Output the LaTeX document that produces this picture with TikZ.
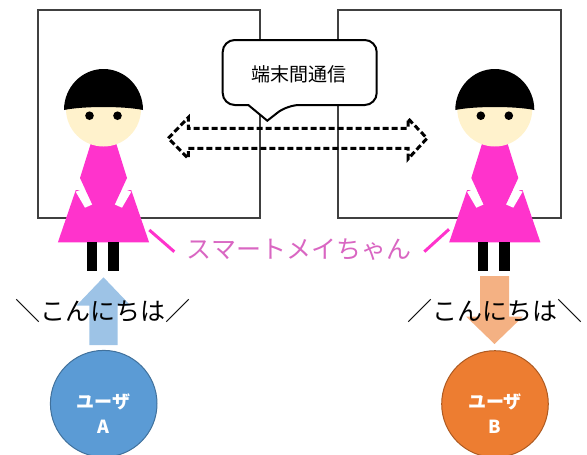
\documentclass[tikz,border=0pt]{standalone}
\usepackage{fontspec}
\newfontfamily\jp{Noto Sans CJK JP}
\definecolor{dress}{HTML}{FF33CC}
\definecolor{skin}{HTML}{FFF2CC}
\definecolor{namepink}{HTML}{D966C2}
\definecolor{upblue}{HTML}{9DC3E6}
\definecolor{downorange}{HTML}{F4B183}
\definecolor{userAfill}{HTML}{5B9BD5}
\definecolor{userAline}{HTML}{41719C}
\definecolor{userBfill}{HTML}{ED7D31}
\definecolor{userBline}{HTML}{AE5A21}
\definecolor{framegray}{HTML}{404040}
\tikzset{
  frame/.style={draw=framegray, line width=1.3},
  bubble/.style={draw=black, line width=2, fill=white},
  linkarrow/.style={draw=black, line width=3, dash pattern=on 6 off 3},
  pointer/.style={draw=dress, line width=3},
  greet/.style={font=\jp\fontsize{25}{30}\selectfont, text=black, inner sep=0},
  user/.style={circle, minimum size=106.6, inner sep=0, line width=1},
  usertext/.style={font=\jp\bfseries\fontsize{18}{25}\selectfont, text=white, align=center, inner sep=0},
  girl/.pic={
    % skirt
    \fill[dress] (-45.6,242.3) -- (45.6,242.3) -- (27.7,190) -- (-27.7,190) -- cycle;
    % white gaps beside the waist
    \fill[white] (-27.8,191.7) -- (-18.5,207.7) -- (-10.8,204.3) -- (-18.8,188.3) -- cycle;
    \fill[white] (27.8,191.7) -- (18.5,207.7) -- (10.8,204.3) -- (18.8,188.3) -- cycle;
    % torso
    \fill[dress] (-11.6,140) -- (11.6,140) -- (23.5,178) -- (11,205) -- (-11,205) -- (-23.5,178) -- cycle;
    % legs
    \fill[black] (-17,242) rectangle (-6.5,270.7);
    \fill[black] (4.5,242) rectangle (15.2,270.7);
    % face, hair, eyes
    \fill[skin] (0,109) circle[radius=37.5];
    \fill[black] (-39.5,110) arc[start angle=180, end angle=360, x radius=39.5, y radius=41]
      .. controls (20,106) and (-20,106) .. cycle;
    \fill[black] (-14,115.7) circle[radius=4.3];
    \fill[black] (14,115.7) circle[radius=4.3];
  }
}
\begin{document}
\begin{tikzpicture}[x=1pt, y=-1pt]
\useasboundingbox (0,0) rectangle (587,455);

% the two terminals
\draw[frame] (38,10) rectangle (260,218);
\draw[frame] (338,10) rectangle (561,218);

% speech bubble
\draw[bubble] (267.3,120.7) -- (248.3,105) [rounded corners=12] -- (222.7,105) -- (222.7,40)
  -- (376.7,40) -- (376.7,105) -- (287.3,105) [sharp corners] -- cycle;
\node[font=\jp\fontsize{19}{23}\selectfont, inner sep=0] (talk) at (299,74) {端末間通信};

% two-way link between the terminals
\draw[linkarrow] (168.3,138.3) -- (188.3,117.5) -- (188.3,128.3) -- (408,128.3) -- (408,118.5)
  -- (427,138.3) -- (408,159) -- (408,148.3) -- (188.3,148.3) -- (188.3,158.5) -- cycle;

% the two robots
\pic at (103.5,0) {girl};
\pic at (494.8,0) {girl};

% name label with its pointers
\node[font=\jp\fontsize{25}{30}\selectfont, text=namepink, inner sep=0] (name) at (299,249.5) {スマートメイちゃん};
\coordinate (robotA) at (149.3,230);
\coordinate (robotB) at (449,229.3);
\coordinate (nameL) at (174.3,251.7);
\coordinate (nameR) at (424.3,251.7);
\draw[pointer] (robotA) -- (nameL);
\draw[pointer] (robotB) -- (nameR);

% voice input and output arrows
\fill[upblue] (103.5,277.3) -- (130.5,305.5) -- (117.7,305.5) -- (117.7,345) -- (89.3,345)
  -- (89.3,305.5) -- (76.5,305.5) -- cycle;
\fill[downorange] (494.5,344) -- (523,316.5) -- (509,316.5) -- (509,276) -- (480,276)
  -- (480,316.5) -- (466,316.5) -- cycle;

% greetings
\node[greet] (helloA) at (103.3,310.5) {＼こんにちは／};
\node[greet] (helloB) at (494.5,310.5) {／こんにちは＼};

% users
\node[user, fill=userAfill, draw=userAline] (userA) at (103.7,403.7) {};
\node[user, fill=userBfill, draw=userBline] (userB) at (495,404) {};
\node[usertext] (userAlabel) at ([yshift=-10]userA.center) {ユーザ\\A};
\node[usertext] (userBlabel) at ([yshift=-10]userB.center) {ユーザ\\B};
\end{tikzpicture}
\end{document}
